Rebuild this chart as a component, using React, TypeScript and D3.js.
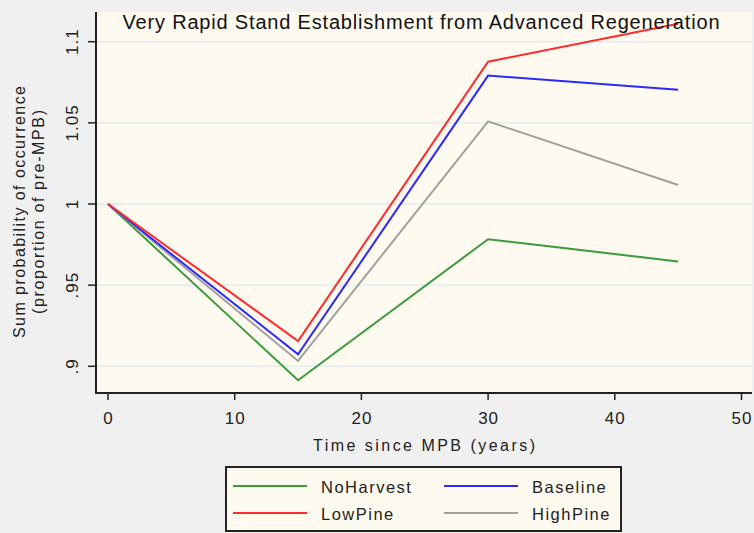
import React from "react";
import * as d3 from "d3";

const years = [0, 15, 30, 45];
const noHarvest = [1, 0.8914, 0.9783, 0.9646];
const baseline = [1, 0.9074, 1.0791, 1.0704];
const lowPine = [1, 0.9155, 1.0877, 1.111];
const highPine = [1, 0.9033, 1.0509, 1.0117];

const xTicks = [0, 10, 20, 30, 40, 50];
const yTicks = [0.9, 0.95, 1, 1.05, 1.1];
const yTickLabels = [".9", ".95", "1", "1.05", "1.1"];

const seriesNames = ["NoHarvest", "Baseline", "LowPine", "HighPine"];
const seriesData = [noHarvest, baseline, lowPine, highPine];
const seriesColors = ["#3a9c3a", "#2a2aff", "#ff2a2a", "#a0a0a0"];

const W = 754;
const H = 533;
const plotLeft = 96;
const plotRight = 752;
const plotTop = 12;
const plotBottom = 393;

export default function App() {
  const x = d3.scaleLinear().domain([0, 50]).range([108, 741.5]);
  const y = d3.scaleLinear().domain([1, 1.1]).range([204, 41.7]);
  const line = d3
    .line<number>()
    .x((_, i) => x(years[i]))
    .y((d) => y(d));
  const font = "Arial, 'Liberation Sans', sans-serif";
  const drawOrder = [0, 3, 1, 2];
  const legendPos = [
    { lx: 233, ty: 486 },
    { lx: 444, ty: 486 },
    { lx: 233, ty: 513 },
    { lx: 444, ty: 513 },
  ];
  return (
    <svg
      width={W}
      height={H}
      style={{ position: "absolute", left: 0, top: 0 }}
      fontFamily={font}
    >
      <rect x={0} y={0} width={W} height={H} fill="#f0f0f0" />
      <rect
        x={plotLeft}
        y={plotTop}
        width={plotRight - plotLeft}
        height={plotBottom - plotTop}
        fill="#fffaf0"
      />
      {yTicks.map((t) => (
        <line
          key={"g" + t}
          x1={plotLeft + 1}
          x2={plotRight}
          y1={y(t)}
          y2={y(t)}
          stroke="#e8eef0"
          strokeWidth={2}
        />
      ))}
      {drawOrder.map((i) => (
        <path
          key={seriesNames[i]}
          d={line(seriesData[i]) || ""}
          fill="none"
          stroke={seriesColors[i]}
          strokeWidth={2}
        />
      ))}
      <text
        x={421}
        y={29}
        textAnchor="middle"
        fontSize={20}
        fill="#111"
        textLength={597}
        lengthAdjust="spacing"
      >
        Very Rapid Stand Establishment from Advanced Regeneration
      </text>
      {/* axes */}
      <line x1={plotLeft} x2={plotLeft} y1={plotTop} y2={plotBottom} stroke="#222" strokeWidth={2} />
      <line x1={plotLeft - 1} x2={plotRight} y1={plotBottom} y2={plotBottom} stroke="#222" strokeWidth={2} />
      {yTicks.map((t, i) => (
        <g key={"yt" + t}>
          <line x1={plotLeft - 8} x2={plotLeft} y1={y(t)} y2={y(t)} stroke="#222" strokeWidth={1.5} />
          <text
            transform={`translate(${78},${y(t)}) rotate(-90)`}
            textAnchor="middle"
            fontSize={17}
            letterSpacing={1}
            fill="#222"
          >
            {yTickLabels[i]}
          </text>
        </g>
      ))}
      {xTicks.map((t) => (
        <g key={"xt" + t}>
          <line x1={x(t)} x2={x(t)} y1={plotBottom} y2={plotBottom + 7} stroke="#222" strokeWidth={1.5} />
          <text x={x(t) + 0.5} y={424} textAnchor="middle" fontSize={17} letterSpacing={1} fill="#222">
            {t}
          </text>
        </g>
      ))}
      <text
        x={424}
        y={451}
        textAnchor="middle"
        fontSize={16}
        fill="#222"
        textLength={222}
        lengthAdjust="spacing"
      >
        Time since MPB (years)
      </text>
      <g transform="translate(25,212) rotate(-90)">
        <text x={0} y={0} textAnchor="middle" fontSize={16} fill="#222" textLength={252} lengthAdjust="spacing">
          Sum probability of occurrence
        </text>
        <text x={0} y={19} textAnchor="middle" fontSize={16} fill="#222" textLength={204} lengthAdjust="spacing">
          (proportion of pre-MPB)
        </text>
      </g>
      {/* legend */}
      <rect x={226} y={467} width={395} height={64} fill="#fffaf0" stroke="#222" strokeWidth={2} />
      {seriesNames.map((n, i) => (
        <g key={"lg" + n}>
          <line
            x1={legendPos[i].lx}
            x2={legendPos[i].lx + 74}
            y1={legendPos[i].ty}
            y2={legendPos[i].ty}
            stroke={seriesColors[i]}
            strokeWidth={2}
          />
          <text
            x={legendPos[i].lx + 88}
            y={legendPos[i].ty + 7}
            fontSize={16.5}
            fill="#222"
            letterSpacing={1.5}
          >
            {n}
          </text>
        </g>
      ))}
    </svg>
  );
}
